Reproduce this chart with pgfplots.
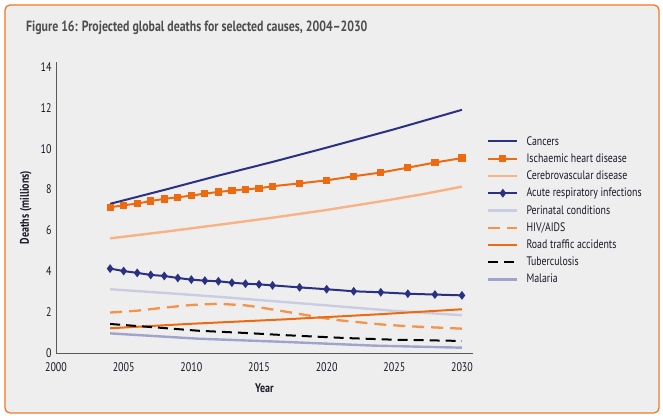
\documentclass[border=0pt]{standalone}
\usepackage{pgfplots}
\pgfplotsset{compat=1.18}
\usepackage{fontspec}
\setmainfont{PT Sans}[FakeStretch=0.8]
\definecolor{navy}{RGB}{43,49,130}
\definecolor{orng}{RGB}{238,106,16}
\definecolor{cerebro}{RGB}{248,179,132}
\definecolor{peri}{RGB}{202,204,228}
\definecolor{hiv}{RGB}{244,147,74}
\definecolor{malaria}{RGB}{160,164,204}
\definecolor{bgc}{RGB}{238,238,238}
\definecolor{framec}{RGB}{240,122,42}
\definecolor{titlec}{RGB}{77,77,77}
\definecolor{txt}{RGB}{25,25,40}
\begin{document}
\begin{tikzpicture}[x=1pt,y=1pt]
\useasboundingbox (-56,-66) rectangle (607,353);
\fill[white] (-56,-66) rectangle (607,353);
\draw[framec, line width=1.3pt, fill=bgc, rounded corners=5pt] (-51,-60) rectangle (603,348);
\node[anchor=west, inner sep=0pt, text=titlec, font=\bfseries\fontsize{14.8}{17}\selectfont] at (-30,325) {Figure 16: Projected global deaths for selected causes, 2004--2030};
\begin{axis}[
  at={(0pt,0pt)}, anchor=south west,
  scale only axis, width=416.8pt, height=291pt,
  xmin=2000, xmax=2030.8, ymin=0, ymax=14.24,
  axis x line*=bottom, axis y line*=left,
  axis line style={-, draw=black!65, line width=0.9pt},
  major tick length=0pt,
  xtick={2000,2005,...,2030}, ytick={0,2,...,14},
  /pgf/number format/assume math mode=true,
  /pgf/number format/1000 sep={},
  ticklabel style={font=\fontsize{12.5}{14}\selectfont, text=txt},
  xticklabel style={yshift=-6pt},
  yticklabel style={xshift=-1pt},
  xlabel={Year}, ylabel={Deaths (millions)},
  label style={font=\bfseries\fontsize{12.5}{14}\selectfont, text=txt},
  xlabel style={yshift=-5pt},
  ylabel style={yshift=2pt},
  clip=false,
  legend style={at={(1.034,0.752)}, anchor=north west, draw=none, fill=none,
    font=\fontsize{12.3}{14}\selectfont, text=txt, row sep=3pt, inner sep=0pt,
    /tikz/every odd column/.append style={column sep=6pt}},
  legend cell align=left,
  legend image code/.code={\draw[mark repeat=2,mark phase=2,#1] plot coordinates {(0pt,0pt) (14.5pt,0pt) (29pt,0pt)};},
]
\addplot[navy, line width=2pt] coordinates {(2004,7.30)(2008,7.98)(2012,8.68)(2016,9.35)(2020,10.05)(2025,10.95)(2030,11.90)};
\addlegendentry{Cancers}
\addplot[orng, line width=2pt, mark=square*, mark size=2.6pt, mark options={solid}] coordinates {
(2004,7.13)(2005,7.23)(2006,7.31)(2007,7.44)(2008,7.54)(2009,7.62)(2010,7.70)(2011,7.80)(2012,7.88)(2013,7.95)(2014,8.01)(2015,8.06)(2016,8.16)(2018,8.30)(2020,8.45)(2022,8.65)(2024,8.83)(2026,9.07)(2028,9.32)(2030,9.54)};
\addlegendentry{Ischaemic heart disease}
\addplot[cerebro, line width=2.4pt] coordinates {(2004,5.61)(2008,5.93)(2012,6.27)(2016,6.62)(2020,7.00)(2024,7.42)(2027,7.76)(2030,8.14)};
\addlegendentry{Cerebrovascular disease}
\addplot[navy, line width=2pt, mark=diamond*, mark size=2.8pt] coordinates {
(2004,4.13)(2005,4.01)(2006,3.92)(2007,3.82)(2008,3.77)(2009,3.67)(2010,3.59)(2011,3.54)(2012,3.51)(2013,3.44)(2014,3.39)(2015,3.36)(2016,3.31)(2018,3.21)(2020,3.12)(2022,3.02)(2024,2.97)(2026,2.90)(2028,2.86)(2030,2.82)};
\addlegendentry{Acute respiratory infections}
\addplot[peri, line width=2.4pt] coordinates {(2004,3.12)(2008,2.94)(2012,2.75)(2016,2.54)(2020,2.33)(2025,2.06)(2030,1.85)};
\addlegendentry{Perinatal conditions}
\addplot[hiv, line width=2.3pt, dash pattern=on 12pt off 7pt] coordinates {(2004,1.98)(2006,2.07)(2008,2.22)(2010,2.35)(2012,2.41)(2014,2.33)(2015,2.24)(2017,2.02)(2019,1.80)(2020.5,1.63)(2022,1.53)(2024,1.40)(2026,1.31)(2028,1.25)(2030,1.19)};
\addlegendentry{HIV/AIDS}
\addplot[orng, line width=2pt] coordinates {(2004,1.21)(2010,1.43)(2017,1.65)(2024,1.90)(2030,2.14)};
\addlegendentry{Road traffic accidents}
\addplot[black, line width=2pt, dash pattern=on 10pt off 6pt] coordinates {(2004,1.42)(2008,1.22)(2010.5,1.09)(2014,0.98)(2017,0.87)(2021.5,0.73)(2025,0.65)(2030,0.59)};
\addlegendentry{Tuberculosis}
\addplot[malaria, line width=2.4pt] coordinates {(2004,0.96)(2010.5,0.70)(2017,0.54)(2023.5,0.36)(2030,0.26)};
\addlegendentry{Malaria}
\end{axis}
\end{tikzpicture}
\end{document}
